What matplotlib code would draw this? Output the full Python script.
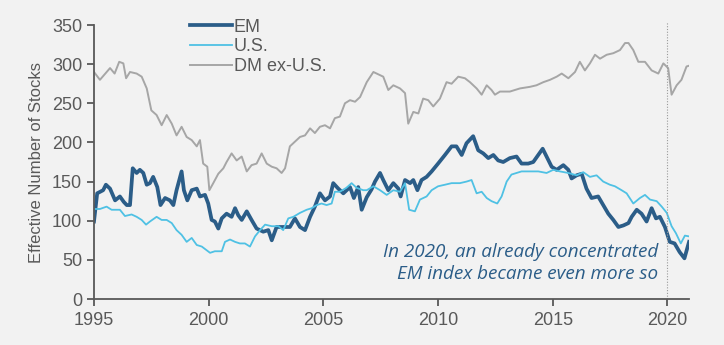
import matplotlib
matplotlib.use("Agg")
import matplotlib.pyplot as plt

plt.rcParams["font.family"] = ["Liberation Sans", "DejaVu Sans"]

BG = "#f2f2f2"; INK = "#595959"
EM_C = "#2b5d88"; US_C = "#4fc1e4"; DM_C = "#a6a6a6"

# values (year, effective number of stocks)
dm_years = [1995.0, 1995.26, 1995.7, 1995.9, 1996.1, 1996.28, 1996.4, 1996.57, 1996.86, 1997.08,
            1997.3, 1997.5, 1997.73, 1997.95, 1998.17, 1998.39, 1998.6, 1998.82, 1999.04, 1999.26,
            1999.48, 1999.62, 1999.76, 1999.94, 2000.03, 2000.2, 2000.42, 2000.64, 2000.78, 2001.0,
            2001.22, 2001.44, 2001.66, 2001.87, 2002.09, 2002.31, 2002.53, 2002.75, 2002.96, 2003.18,
            2003.33, 2003.54, 2003.76, 2003.98, 2004.2, 2004.42, 2004.63, 2004.85, 2005.07, 2005.29,
            2005.5, 2005.72, 2005.94, 2006.16, 2006.38, 2006.6, 2006.89, 2007.18, 2007.61, 2007.83,
            2008.05, 2008.34, 2008.56, 2008.7, 2008.92, 2009.14, 2009.35, 2009.57, 2009.79, 2010.08,
            2010.37, 2010.59, 2010.88, 2011.17, 2011.39, 2011.68, 2011.9, 2012.12, 2012.33, 2012.48,
            2012.7, 2013.13, 2013.57, 2014.0, 2014.29, 2014.59, 2014.88, 2015.17, 2015.39, 2015.68,
            2015.97, 2016.18, 2016.4, 2016.62, 2016.84, 2017.06, 2017.35, 2017.64, 2017.93, 2018.15,
            2018.3, 2018.51, 2018.73, 2019.02, 2019.31, 2019.6, 2019.82, 2020.03, 2020.18, 2020.4,
            2020.61, 2020.83, 2020.94]
dm_vals = [290, 280, 295, 288, 303, 301, 282, 290, 288, 284,
           269, 241, 235, 222, 235, 224, 209, 220, 207, 203,
           195, 203, 173, 169, 139, 148, 160, 167, 175, 186,
           177, 182, 163, 171, 173, 186, 173, 169, 167, 161,
           167, 195, 201, 207, 209, 218, 212, 220, 222, 218,
           231, 233, 250, 254, 252, 258, 277, 290, 284, 267,
           273, 269, 263, 224, 239, 237, 256, 254, 246, 256,
           277, 275, 284, 282, 277, 269, 261, 273, 267, 261,
           265, 265, 269, 271, 273, 277, 280, 284, 288, 282,
           290, 303, 292, 301, 312, 307, 312, 314, 318, 327,
           327, 318, 303, 303, 292, 288, 301, 295, 261, 273,
           280, 297, 298]

em_years = [1995.0, 1995.14, 1995.4, 1995.52, 1995.7, 1995.92, 1996.13, 1996.3, 1996.43, 1996.57,
            1996.69, 1996.86, 1997.0, 1997.15, 1997.3, 1997.44, 1997.58, 1997.76, 1997.9, 1998.1,
            1998.31, 1998.46, 1998.6, 1998.82, 1998.92, 1999.07, 1999.26, 1999.48, 1999.62, 1999.84,
            1999.98, 2000.13, 2000.27, 2000.42, 2000.57, 2000.78, 2001.0, 2001.15, 2001.29, 2001.44,
            2001.66, 2001.87, 2002.09, 2002.38, 2002.6, 2002.75, 2002.96, 2003.25, 2003.54, 2003.76,
            2003.98, 2004.2, 2004.42, 2004.63, 2004.85, 2005.07, 2005.29, 2005.43, 2005.65, 2005.87,
            2006.16, 2006.33, 2006.52, 2006.67, 2006.89, 2007.1, 2007.25, 2007.47, 2007.61, 2007.83,
            2008.05, 2008.27, 2008.37, 2008.56, 2008.78, 2008.92, 2009.1, 2009.28, 2009.5, 2009.72,
            2010.0, 2010.3, 2010.59, 2010.8, 2011.03, 2011.24, 2011.53, 2011.75, 2011.97, 2012.19,
            2012.41, 2012.62, 2012.84, 2013.13, 2013.42, 2013.64, 2013.93, 2014.15, 2014.37, 2014.56,
            2014.73, 2014.95, 2015.17, 2015.46, 2015.68, 2015.82, 2016.04, 2016.26, 2016.47, 2016.69,
            2016.98, 2017.2, 2017.42, 2017.64, 2017.86, 2018.08, 2018.3, 2018.44, 2018.66, 2018.87,
            2019.09, 2019.31, 2019.5, 2019.67, 2019.89, 2020.1, 2020.31, 2020.53, 2020.74, 2020.94]
em_vals = [99, 135, 139, 146, 141, 126, 131, 124, 120, 120,
           167, 161, 165, 161, 146, 148, 156, 143, 120, 129,
           126, 120, 139, 163, 139, 126, 139, 141, 131, 133,
           122, 101, 99, 90, 103, 109, 105, 116, 107, 101,
           112, 101, 90, 86, 88, 75, 92, 92, 92, 103,
           92, 88, 105, 118, 135, 126, 131, 148, 141, 135,
           143, 129, 143, 114, 130, 140, 150, 161, 152, 139,
           148, 141, 131, 152, 148, 152, 139, 152, 156, 163,
           173, 184, 195, 195, 184, 199, 208, 190, 186, 180,
           184, 177, 175, 180, 182, 173, 173, 175, 184, 192,
           182, 169, 165, 171, 165, 154, 158, 160, 141, 129,
           131, 120, 109, 101, 92, 94, 97, 105, 114, 109,
           99, 116, 103, 105, 92, 73, 71, 60, 52, 73]

us_years = [1995.0, 1995.26, 1995.55, 1995.77, 1996.13, 1996.35, 1996.64, 1996.86, 1997.08, 1997.27,
            1997.44, 1997.73, 1997.95, 1998.17, 1998.39, 1998.6, 1998.82, 1999.04, 1999.26, 1999.48,
            1999.7, 1999.88, 2000.06, 2000.27, 2000.57, 2000.71, 2000.93, 2001.15, 2001.36, 2001.58,
            2001.8, 2002.02, 2002.24, 2002.46, 2002.75, 2003.04, 2003.25, 2003.47, 2003.69, 2003.98,
            2004.27, 2004.49, 2004.71, 2004.92, 2005.14, 2005.36, 2005.5, 2005.72, 2006.0, 2006.23,
            2006.45, 2006.74, 2006.89, 2007.18, 2007.47, 2007.76, 2008.05, 2008.34, 2008.56, 2008.74,
            2008.99, 2009.21, 2009.5, 2009.72, 2010.0, 2010.3, 2010.59, 2010.95, 2011.24, 2011.46,
            2011.68, 2011.9, 2012.12, 2012.33, 2012.58, 2012.77, 2012.99, 2013.2, 2013.42, 2013.64,
            2014.0, 2014.37, 2014.73, 2015.02, 2015.31, 2015.68, 2016.04, 2016.33, 2016.62, 2016.91,
            2017.2, 2017.49, 2017.71, 2018.0, 2018.22, 2018.51, 2018.8, 2019.02, 2019.24, 2019.53,
            2019.75, 2019.97, 2020.18, 2020.37, 2020.58, 2020.76, 2020.94]
us_vals = [115, 115, 118, 114, 114, 106, 108, 105, 101, 95,
           99, 105, 101, 101, 97, 88, 82, 73, 78, 69,
           67, 63, 59, 61, 61, 73, 76, 73, 71, 71,
           67, 80, 88, 95, 93, 93, 88, 103, 105, 110,
           114, 116, 120, 122, 120, 122, 137, 137, 142, 148,
           142, 139, 139, 144, 139, 133, 139, 137, 148, 114,
           112, 127, 131, 139, 144, 146, 148, 148, 150, 152,
           135, 137, 129, 125, 122, 131, 150, 159, 161, 163,
           163, 163, 161, 165, 163, 161, 158, 162, 156, 158,
           150, 146, 144, 139, 135, 122, 129, 133, 127, 125,
           118, 110, 93, 84, 71, 81, 80]

fig = plt.figure(figsize=(7.24, 3.45), dpi=100)
fig.patch.set_facecolor(BG)
ax = fig.add_axes([0.1298, 0.1333, 0.8219, 0.7942])
ax.set_facecolor(BG)

ax.plot(em_years, em_vals, color=EM_C, lw=2.7, label="EM", solid_joinstyle="round")
ax.plot(us_years, us_vals, color=US_C, lw=1.3, label="U.S.")
ax.plot(dm_years, dm_vals, color=DM_C, lw=1.4, label="DM ex-U.S.")

ax.axvline(2020, ymin=0, ymax=1.01, color="#9a9a9a", lw=0.8, ls=(0, (1, 1.5)), clip_on=False)

ax.set_xlim(1995, 2020.94)
ax.set_ylim(0, 350)
ax.set_xticks([1995, 2000, 2005, 2010, 2015, 2020])
ax.set_yticks(range(0, 351, 50))
for s in ("top", "right"):
    ax.spines[s].set_visible(False)
for s in ("left", "bottom"):
    ax.spines[s].set_color(INK); ax.spines[s].set_linewidth(1.3)
ax.tick_params(colors=INK, labelsize=13, width=1.3, length=5)
ax.tick_params(axis="x", pad=4)
ax.set_ylabel("Effective Number of Stocks", color=INK, fontsize=12, labelpad=6)

leg = ax.legend(loc="upper left", bbox_to_anchor=(0.15, 1.05), frameon=False,
                fontsize=13, handlelength=2.3, handletextpad=0.1, labelspacing=0.15,
                borderaxespad=0)
for t in leg.get_texts():
    t.set_color(INK)

ax.text(2019.6, 46, "In 2020, an already concentrated\nEM index became even more so",
        ha="right", va="center", color=EM_C, fontsize=13.6, style="italic",
        family="Open Sans", linespacing=1.28)

fig.savefig("out.png", dpi=100, facecolor=BG)
